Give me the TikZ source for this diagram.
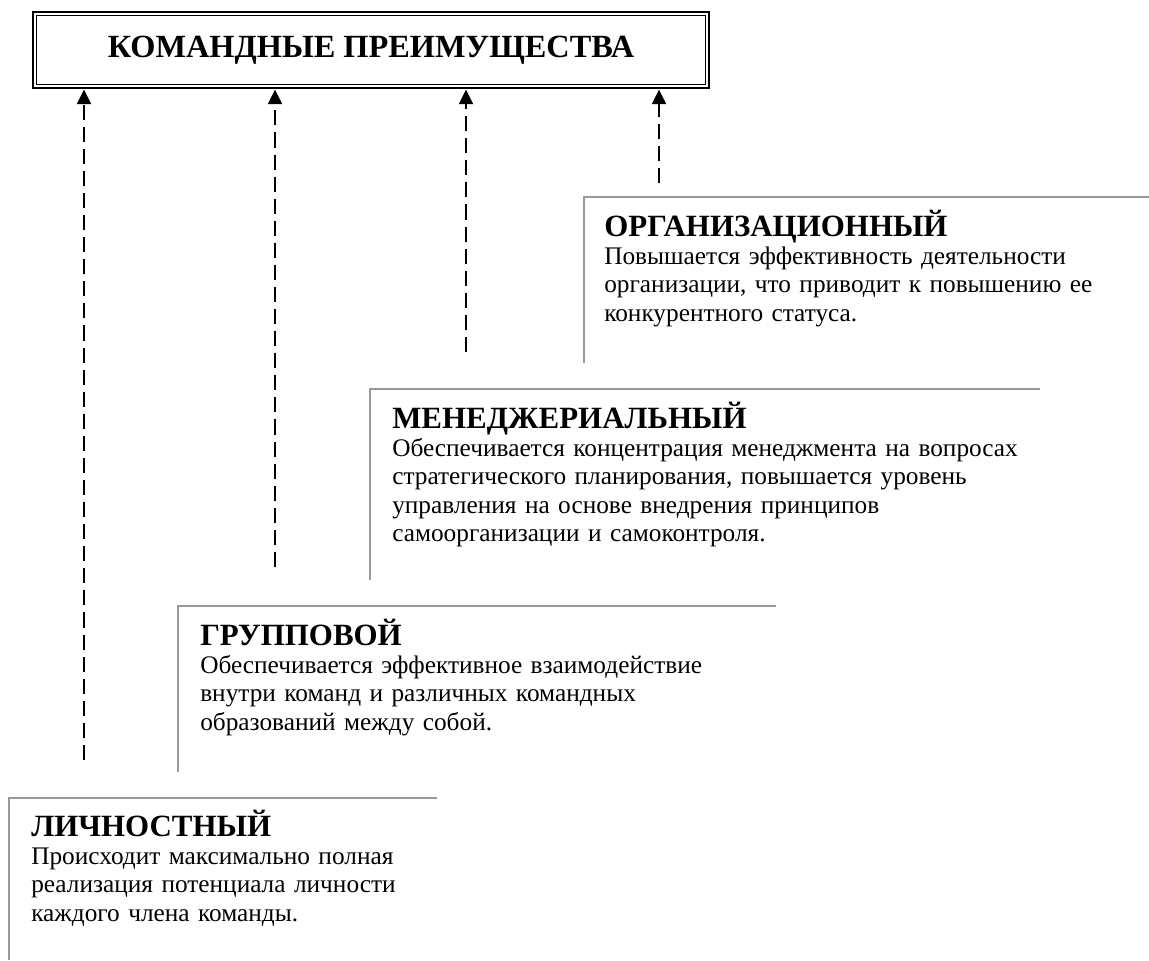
\documentclass[tikz,border=0pt]{standalone}
\usepackage{fontspec}
\setmainfont{Liberation Serif}
\usetikzlibrary{arrows.meta, positioning, calc}
\definecolor{framegray}{RGB}{153, 153, 153}

\begin{document}
\begin{tikzpicture}[
    x=0.025cm, y=-0.025cm,
    titlebox/.style={rectangle, draw=black, line width=2.1pt, minimum width=676*0.025cm, minimum height=76*0.025cm, inner sep=0pt, font=\rmfamily\bfseries\fontsize{23pt}{25pt}\selectfont},
    head/.style={anchor=base west, inner sep=0pt, font=\rmfamily\bfseries\fontsize{22pt}{24pt}\selectfont},
    body/.style={anchor=base west, inner sep=0pt, text width=20cm, align=left, font=\rmfamily\fontsize{18pt}{20.3pt}\selectfont},
    frame/.style={draw=framegray, line width=2.1pt},
    arr/.style={-{Triangle[length=10.5pt, width=10pt]}, line width=1.4pt, dash pattern=on 10.7pt off 5pt}
]
\useasboundingbox (0,0) rectangle (1149,960);

% ── Title ──
\node[titlebox] (title) at (371,50) {КОМАНДНЫЕ ПРЕИМУЩЕСТВА};
\draw[line width=0.8pt] ($(title.north west)+(5,5)$) rectangle ($(title.south east)+(-5,-5)$);

% ── Organizational ──
\draw[frame] (584,363) -- (584,197) -- (1149,197);
\node[head] (orgh) at (604,236) {ОРГАНИЗАЦИОННЫЙ};
\node[body] (orgt) at (604,264) {Повышается эффективность деятельности\\организации, что приводит к повышению ее\\конкурентного статуса.};

% ── Managerial ──
\draw[frame] (370,580) -- (370,389) -- (1040,389);
\node[head] (manh) at (392,428) {МЕНЕДЖЕРИАЛЬНЫЙ};
\node[body] (mant) at (392,456) {Обеспечивается концентрация менеджмента на вопросах\\стратегического планирования, повышается уровень\\управления на основе внедрения принципов\\самоорганизации и самоконтроля.};

% ── Group ──
\draw[frame] (178,772) -- (178,606) -- (776,606);
\node[head] (grph) at (200,645) {ГРУППОВОЙ};
\node[body] (grpt) at (200,673) {Обеспечивается эффективное взаимодействие\\внутри команд и различных командных\\образований между собой.};

% ── Personal ──
\draw[frame] (9,960) -- (9,798) -- (437,798);
\node[head] (perh) at (31,836) {ЛИЧНОСТНЫЙ};
\node[body] (pert) at (31,864) {Происходит максимально полная\\реализация потенциала личности\\каждого члена команды.};

% Arrow feet
\coordinate (f1) at (84,760);
\coordinate (f2) at (275,567);
\coordinate (f3) at (466,352);
\coordinate (f4) at (659,183);

% Arrows to title
\draw[arr] (f1) -- (f1 |- title.south);
\draw[arr] (f2) -- (f2 |- title.south);
\draw[arr] (f3) -- (f3 |- title.south);
\draw[arr] (f4) -- (f4 |- title.south);

\end{tikzpicture}
\end{document}
